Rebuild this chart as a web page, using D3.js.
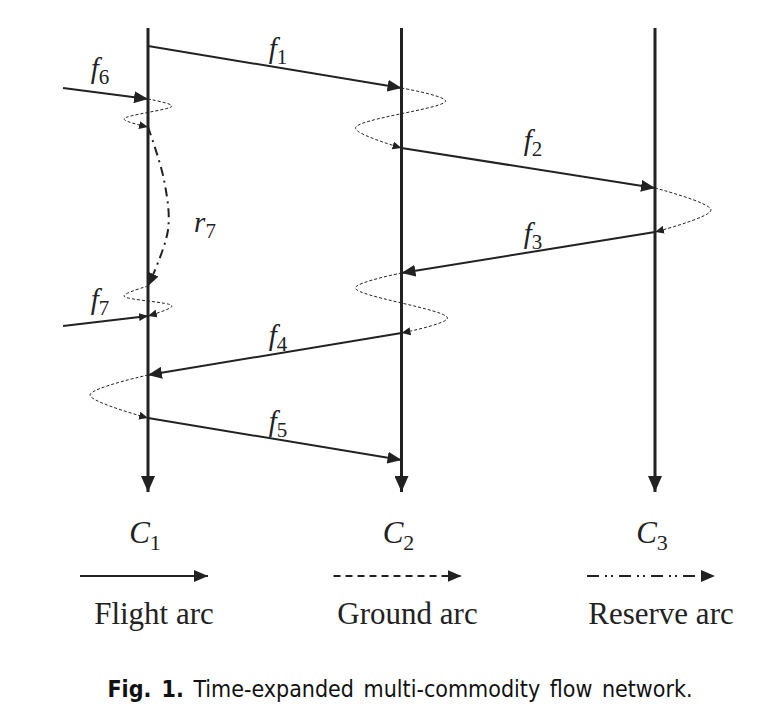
<!DOCTYPE html>
<html><head><meta charset="utf-8">
<script src="https://cdn.jsdelivr.net/npm/d3@7"></script>
<style>body{margin:0;background:#fff}</style>
</head><body><div id="chart"></div>
<script>
// stations (columns) and time (rows) of the network
var stations = ["C1", "C2", "C3"];
var stationSubs = ["1", "2", "3"];
// flight arcs: [name, fromStation, fromTime, toStation, toTime]  (station -1 = outside left)
var flightArcs = [
  ["f1", 0, 46, 1, 88],
  ["f6", -1, 88, 0, 99],
  ["f2", 1, 148, 2, 188],
  ["f3", 2, 232, 1, 273],
  ["f7", -1, 326, 0, 316],
  ["f4", 1, 333, 0, 375],
  ["f5", 0, 418, 1, 460]
];
// ground arcs: station, list of [offset, time] waypoints
var groundArcs = [
  [0, [[0, 99], [24, 106], [-24, 119], [0, 127]]],
  [1, [[0, 88], [44, 101], [-46, 128], [0, 148]]],
  [2, [[0, 188], [56, 210], [0, 232]]],
  [1, [[0, 273], [-46, 288], [46, 318], [0, 333]]],
  [0, [[0, 286], [-24, 296], [24, 306], [0, 316]]],
  [0, [[0, 375], [-58, 395], [0, 418]]]
];
// reserve arc r7 on station C1
var reserveArc = [0, [[0, 127], [16, 180], [20, 230], [0, 286]]];
var flightLabels = [["f", "1", 278, 58], ["f", "6", 100, 78], ["f", "2", 533, 150],
  ["f", "3", 533, 243], ["f", "7", 100, 309], ["f", "4", 278, 345], ["f", "5", 278, 431],
  ["r", "7", 205, 232]];
var legendNames = ["Flight arc", "Ground arc", "Reserve arc"];

var W = 784, H = 717;
var serif = "Liberation Serif, DejaVu Serif, serif";
var svg = d3.select("#chart").append("svg").attr("width", W).attr("height", H);
var x = d3.scaleLinear().domain([0, 2]).range([148, 655]);
var y = d3.scaleLinear().domain([0, 717]).range([0, 717]);
var xs = function(s) { return s < 0 ? 63 : x(s); };
var ink = "#222";

var defs = svg.append("defs");
function marker(id, w, h) {
  defs.append("marker").attr("id", id).attr("markerUnits", "userSpaceOnUse")
    .attr("markerWidth", w).attr("markerHeight", h).attr("refX", w).attr("refY", h / 2)
    .attr("orient", "auto").attr("viewBox", "0 0 " + w + " " + h)
    .append("path").attr("d", "M0,0L" + w + "," + (h / 2) + "L0," + h + "Z").attr("fill", ink);
}
marker("big", 16, 14);
marker("mid", 14, 12);
marker("small", 9, 8);
marker("rsv", 13, 11);

// station lines
svg.selectAll(".station").data(stations).enter().append("line")
  .attr("x1", function(d, i) { return x(i); }).attr("x2", function(d, i) { return x(i); })
  .attr("y1", y(28)).attr("y2", y(492)).attr("stroke", ink).attr("stroke-width", 3)
  .attr("marker-end", "url(#big)");

// flight arcs
svg.selectAll(".flight").data(flightArcs).enter().append("line")
  .attr("x1", function(d) { return xs(d[1]); }).attr("y1", function(d) { return y(d[2]); })
  .attr("x2", function(d) { return xs(d[3]); }).attr("y2", function(d) { return y(d[4]); })
  .attr("stroke", ink).attr("stroke-width", 2)
  .attr("marker-end", function(d) { return d[0] == "f7" ? "url(#small)" : "url(#mid)"; });

var curve = d3.line().curve(d3.curveCatmullRom.alpha(0.5));
svg.selectAll(".ground").data(groundArcs).enter().append("path")
  .attr("d", function(d) { return curve(d[1].map(function(p) { return [x(d[0]) + p[0], y(p[1])]; })); })
  .attr("fill", "none").attr("stroke", ink).attr("stroke-width", 1).attr("stroke-dasharray", "3,2")
  .attr("marker-end", "url(#small)");

svg.append("path")
  .attr("d", curve(reserveArc[1].map(function(p) { return [x(reserveArc[0]) + p[0], y(p[1])]; })))
  .attr("fill", "none").attr("stroke", ink).attr("stroke-width", 2)
  .attr("stroke-dasharray", "9,5,2,5").attr("marker-end", "url(#rsv)");

// arc labels
var lab = svg.selectAll(".lab").data(flightLabels).enter().append("text")
  .attr("x", function(d) { return d[2]; }).attr("y", function(d) { return d[3]; })
  .attr("text-anchor", "middle").attr("font-family", serif).attr("font-size", 29).attr("fill", ink);
lab.append("tspan").attr("font-family", serif).attr("font-style", "italic").text(function(d) { return d[0]; });
lab.append("tspan").attr("font-family", serif).attr("font-size", 21).attr("dy", 6).text(function(d) { return d[1]; });

// station labels
var sl = svg.selectAll(".sl").data(stations).enter().append("text")
  .attr("x", function(d, i) { return x(i) - 3; }).attr("y", 543).attr("text-anchor", "middle")
  .attr("font-family", serif).attr("font-size", 31).attr("fill", ink);
sl.append("tspan").attr("font-family", serif).attr("font-style", "italic").text("C");
sl.append("tspan").attr("font-family", serif).attr("font-size", 22).attr("dy", 7).text(function(d, i) { return stationSubs[i]; });

// legend
var dashes = [null, "7,5", "12,6,2,4,2,6"];
var lg = svg.selectAll(".lg").data(legendNames).enter().append("g");
lg.append("line").attr("x1", function(d, i) { return x(i) - 68; }).attr("x2", function(d, i) { return x(i) + 60; })
  .attr("y1", 576).attr("y2", 576).attr("stroke", ink).attr("stroke-width", 2)
  .attr("stroke-dasharray", function(d, i) { return dashes[i]; }).attr("marker-end", "url(#mid)");
lg.append("text").attr("x", function(d, i) { return x(i) + 6; }).attr("y", 624).attr("text-anchor", "middle")
  .attr("font-family", serif).attr("font-size", 31).attr("fill", ink).text(function(d) { return d; });

// caption
var cap = svg.append("text").attr("x", 400).attr("y", 697).attr("text-anchor", "middle")
  .attr("font-family", "DejaVu Sans Condensed, DejaVu Sans").attr("font-size", 23).attr("fill", "#111")
  .attr("word-spacing", 3);
cap.append("tspan").attr("font-weight", "bold").text("Fig. 1.");
cap.append("tspan").text(" Time-expanded multi-commodity flow network.");
</script></body></html>
